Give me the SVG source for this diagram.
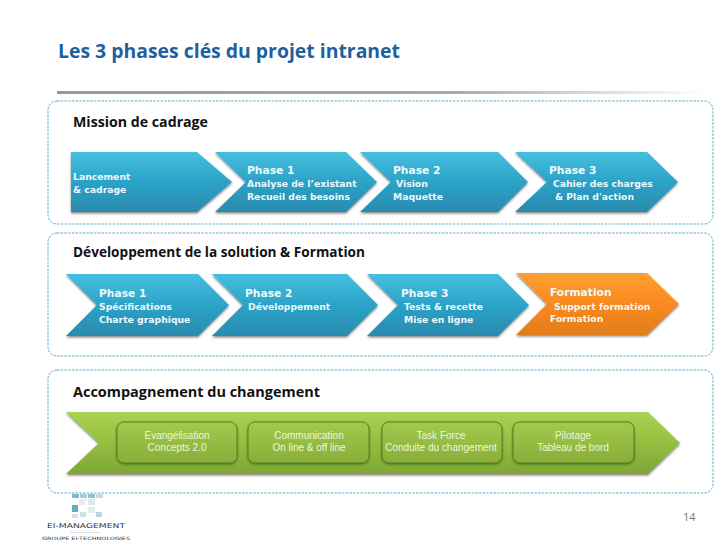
<svg xmlns="http://www.w3.org/2000/svg" width="728" height="546" viewBox="0 0 728 546">
<style>
.panel{fill:#fff;stroke:#4aa6c4;stroke-width:.9;stroke-dasharray:2.5 1.2}
.head{font:bold 14px "Open Sans","Liberation Sans",sans-serif;fill:#111}
.t1{font:bold 10.7px "DejaVu Sans",sans-serif;fill:#eef9fc}
.t2{font:bold 9.25px "DejaVu Sans",sans-serif;fill:#eef9fc}
.t3{font:10px "Liberation Sans",sans-serif;fill:#eef5de;text-anchor:middle}
.blue{fill:url(#blue);filter:url(#sh)}
.or{fill:url(#orange);filter:url(#sh)}
.gr{fill:url(#green);filter:url(#sh)}
.box{fill:url(#boxg);stroke:#5d7f22;stroke-width:1;filter:url(#sh2)}
.logo{font-family:"DejaVu Sans",sans-serif;fill:#333;text-anchor:middle}
</style>
<defs>
<linearGradient id="blue" x1="0" y1="0" x2="0" y2="1"><stop offset="0" stop-color="#45bfdf"/><stop offset=".5" stop-color="#2ba3c8"/><stop offset="1" stop-color="#2a8aae"/></linearGradient>
<linearGradient id="orange" x1="0" y1="0" x2="0" y2="1"><stop offset="0" stop-color="#fda030"/><stop offset=".5" stop-color="#f98a20"/><stop offset="1" stop-color="#e27c1e"/></linearGradient>
<linearGradient id="green" x1="0" y1="0" x2="0" y2="1"><stop offset="0" stop-color="#acd253"/><stop offset=".5" stop-color="#94bf3f"/><stop offset="1" stop-color="#7fa636"/></linearGradient>
<linearGradient id="boxg" x1="0" y1="0" x2="0" y2="1"><stop offset="0" stop-color="#a2ca4c"/><stop offset="1" stop-color="#88ae39"/></linearGradient>
<linearGradient id="rule" x1="0" y1="0" x2="1" y2="0"><stop offset="0" stop-color="#999"/><stop offset=".6" stop-color="#a8a8a8"/><stop offset="1" stop-color="#fff"/></linearGradient>
<filter id="sh" x="-5%" y="-10%" width="110%" height="125%"><feDropShadow dx="0" dy="1.5" stdDeviation="1" flood-color="#333" flood-opacity=".6"/></filter>
<filter id="sh2" x="-5%" y="-10%" width="110%" height="125%"><feDropShadow dx="0" dy="1" stdDeviation=".8" flood-color="#3c5212" flood-opacity=".7"/></filter>
</defs>
<rect width="728" height="546" fill="#fff"/>
<text id="title" x="58" y="58" textLength="342" lengthAdjust="spacingAndGlyphs" style="font:bold 19px 'Open Sans','Liberation Sans',sans-serif;fill:#1f5f9e">Les 3 phases clés du projet intranet</text>
<rect x="57" y="91" width="650" height="3" fill="url(#rule)"/>

<rect id="panel1" class="panel" x="48" y="101" width="665" height="123" rx="9"/>
<rect id="panel2" class="panel" x="48" y="233" width="665" height="123" rx="9"/>
<rect id="panel3" class="panel" x="48" y="370" width="665" height="123" rx="9"/>

<text id="head1" class="head" x="73" y="127" textLength="135" lengthAdjust="spacingAndGlyphs">Mission de cadrage</text>
<text id="head2" class="head" x="73" y="257" textLength="292" lengthAdjust="spacingAndGlyphs">Développement de la solution &amp; Formation</text>
<text id="head3" class="head" x="73" y="397" textLength="247" lengthAdjust="spacingAndGlyphs">Accompagnement du changement</text>

<g id="r1-lancement"><polygon class="blue" points="71,152 197,152 232,182 197,212 71,212"/>
<text class="t2" x="73" y="180">Lancement</text><text class="t2" x="73" y="193">&amp; cadrage</text></g>
<g id="r1-phase1"><polygon class="blue" points="215,152 346,152 377,182 346,212 215,212 246,182"/>
<text class="t1" x="247" y="174">Phase 1</text><text class="t2" x="247" y="187">Analyse de l’existant</text><text class="t2" x="247" y="200">Recueil des besoins</text></g>
<g id="r1-phase2"><polygon class="blue" points="360,152 498,152 528,182 498,212 360,212 391,182"/>
<text class="t1" x="393" y="174">Phase 2</text><text class="t2" x="396" y="187">Vision</text><text class="t2" x="393" y="200">Maquette</text></g>
<g id="r1-phase3"><polygon class="blue" points="515,152 647,152 678,182 647,212 515,212 547,182"/>
<text class="t1" x="549" y="174">Phase 3</text><text class="t2" x="553" y="187">Cahier des charges</text><text class="t2" x="555" y="200">&amp; Plan d'action</text></g>

<g id="r2-phase1"><polygon class="blue" points="66,274 198,274 229,305 198,336 66,336 97,305"/>
<text class="t1" x="99" y="297">Phase 1</text><text class="t2" x="99" y="310">Spécifications</text><text class="t2" x="99" y="323">Charte graphique</text></g>
<g id="r2-phase2"><polygon class="blue" points="212,274 347,274 378,305 347,336 212,336 243,305"/>
<text class="t1" x="245" y="297">Phase 2</text><text class="t2" x="248" y="310">Développement</text></g>
<g id="r2-phase3"><polygon class="blue" points="367,274 498,274 529,305 498,336 367,336 398,305"/>
<text class="t1" x="401" y="297">Phase 3</text><text class="t2" x="404" y="310">Tests &amp; recette</text><text class="t2" x="404" y="323">Mise en ligne</text></g>
<g id="r2-formation"><polygon class="or" points="516,273 647,273 679,304 647,335 516,335 547,304"/>
<text class="t1" x="550" y="296">Formation</text><text class="t2" x="554" y="310">Support formation</text><text class="t2" x="550" y="322">Formation</text></g>

<g id="r3-band"><polygon class="gr" points="66,412 648,412 680,443 648,474 66,474 99,443"/></g>
<g id="r3-evangelisation"><rect class="box" x="117" y="422" width="120" height="41" rx="7"/>
<text class="t3" x="177" y="439">Evangélisation</text><text class="t3" x="177" y="451">Concepts 2.0</text></g>
<g id="r3-communication"><rect class="box" x="248" y="422" width="121" height="41" rx="7"/>
<text class="t3" x="309" y="439">Communication</text><text class="t3" x="309" y="451">On line &amp; off line</text></g>
<g id="r3-taskforce"><rect class="box" x="382" y="422" width="120" height="41" rx="7"/>
<text class="t3" x="441" y="439">Task Force</text><text class="t3" x="441" y="451">Conduite du changement</text></g>
<g id="r3-pilotage"><rect class="box" x="513" y="422" width="121" height="41" rx="7"/>
<text class="t3" x="573" y="439">Pilotage</text><text class="t3" x="573" y="451">Tableau de bord</text></g>

<g id="logo">
<rect x="72" y="494" width="7" height="4" fill="#7fb9c9"/><rect x="80" y="494" width="7" height="4" fill="#a9ccd6"/><rect x="88" y="494" width="7" height="4" fill="#8fc0ce"/><rect x="96" y="494" width="7" height="4" fill="#c4dbe2"/>
<rect x="79" y="499" width="7" height="6" fill="#e4eef1"/><rect x="88" y="499" width="7" height="6" fill="#dbe8ec"/>
<rect x="72" y="505" width="6" height="7" fill="#5fb0c0"/><rect x="88" y="507" width="7" height="6" fill="#e0ebee"/>
<rect x="80" y="512" width="6" height="5" fill="#cfe2e8"/><rect x="96" y="512" width="6" height="5" fill="#b7d6dd"/><rect x="72" y="514" width="6" height="4" fill="#cfe2e8"/>
<text class="logo" x="86" y="528" font-size="6.5" textLength="78" lengthAdjust="spacingAndGlyphs">EI-MANAGEMENT</text>
<rect x="70" y="532" width="30" height="1" fill="#ddd"/>
<text class="logo" x="86" y="540" font-size="4.5" textLength="88" lengthAdjust="spacingAndGlyphs">GROUPE EI-TECHNOLOGIES</text>
</g>
<text id="page" x="683" y="521" style="font:11px 'Open Sans','Liberation Sans',sans-serif;fill:#777">14</text>
</svg>
